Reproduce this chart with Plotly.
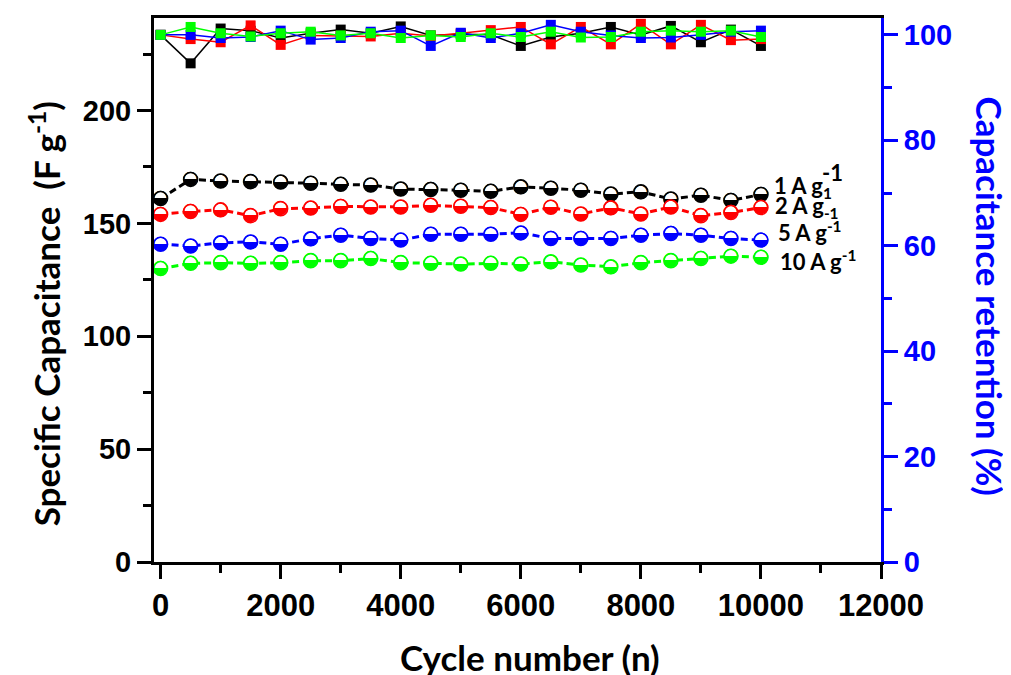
import plotly.graph_objects as go

# ---------------- data ----------------
cycles = [0, 500, 1000, 1500, 2000, 2500, 3000, 3500, 4000, 4500, 5000,
          5500, 6000, 6500, 7000, 7500, 8000, 8500, 9000, 9500, 10000]

cap_1 = [161.0, 169.5, 168.8, 168.5, 168.3, 167.8, 167.3, 167.0, 165.2, 165.0, 164.7,
         164.2, 166.2, 165.6, 164.7, 163.0, 164.0, 160.8, 162.5, 160.2, 162.8]
cap_2 = [154.0, 155.3, 156.0, 153.4, 156.5, 156.8, 157.5, 157.3, 157.3, 158.0, 157.6,
         157.0, 154.0, 157.2, 154.2, 156.9, 154.2, 157.3, 153.4, 154.8, 157.0]
cap_5 = [140.8, 140.0, 141.4, 141.8, 140.8, 143.2, 144.8, 143.3, 142.6, 145.2, 145.2,
         145.2, 145.8, 143.3, 143.3, 143.3, 144.8, 145.5, 144.8, 143.3, 142.6]
cap_10 = [130.0, 132.3, 132.6, 132.3, 132.6, 133.5, 133.5, 134.4, 132.6, 132.3, 132.0,
          132.3, 132.0, 133.0, 131.6, 130.8, 132.6, 133.5, 134.4, 135.5, 135.0]

ret_1 = [100.0, 94.6, 101.2, 100.8, 99.4, 100.3, 101.0, 100.3, 101.6, 99.9, 100.1,
         100.0, 97.9, 99.6, 100.3, 101.5, 100.0, 101.7, 98.6, 101.0, 97.9]
ret_2 = [100.0, 99.2, 98.6, 101.8, 98.1, 99.9, 99.8, 99.7, 100.3, 99.8, 100.3,
         100.9, 101.5, 98.2, 101.5, 98.2, 102.1, 98.2, 101.9, 99.0, 99.2]
ret_5 = [100.0, 100.0, 99.4, 99.6, 100.8, 99.1, 99.4, 100.6, 100.8, 97.9, 100.4,
         99.4, 100.3, 101.9, 100.6, 99.9, 99.4, 99.5, 100.0, 100.6, 100.8]
ret_10 = [100.0, 101.5, 100.3, 99.7, 100.3, 100.6, 99.9, 100.3, 99.4, 99.9, 99.6,
          100.3, 99.6, 100.6, 99.5, 99.6, 100.6, 100.8, 100.6, 100.8, 99.6]

series_names = ["1 A g-1", "2 A g-1", "5 A g-1", "10 A g-1"]
series_colors = ["#000000", "#FF0000", "#0000FF", "#00FF00"]
cap_series = [cap_1, cap_2, cap_5, cap_10]
ret_series = [ret_1, ret_2, ret_5, ret_10]

x_ticks = [0, 2000, 4000, 6000, 8000, 10000, 12000]
y_ticks = [0, 50, 100, 150, 200]
y2_ticks = [0, 20, 40, 60, 80, 100]

label_texts = ["1 A g<sub>1</sub>", "2 A g<sub>-1</sub>", "5 A g<sup>-1</sup>", "10 A g<sup>-1</sup>"]

# ---------------- figure ----------------
fig = go.Figure()

for name, col, cap in zip(series_names, series_colors, cap_series):
    fig.add_trace(go.Scatter(
        x=cycles, y=cap, name=name, yaxis="y",
        mode="lines+markers+text",
        line=dict(color=col, width=3, dash="7px,4px"),
        marker=dict(symbol="circle", size=14, color="white",
                    line=dict(color=col, width=1.5)),
        text=["\u25D2"] * len(cycles),
        textposition="middle center",
        textfont=dict(family="DejaVu Sans", size=19, color=col),
        showlegend=False, hoverinfo="x+y",
    ))

for name, col, ret in zip(series_names, series_colors, ret_series):
    fig.add_trace(go.Scatter(
        x=cycles, y=ret, name=name, yaxis="y2",
        mode="lines+markers",
        line=dict(color=col, width=1.5),
        marker=dict(symbol="square", size=10, color=col, line=dict(width=0)),
        showlegend=False, hoverinfo="x+y",
    ))

tickfont = dict(family="Liberation Sans, Arial, sans-serif", size=29, color="black", weight="bold")
titlefont = dict(family="Lato, sans-serif", size=35, color="black", weight="bold")
labelfont = dict(family="Lato, sans-serif", size=22, color="black", weight="bold")

# the page body has an 8px default margin; size the figure so the plot lands where the reference has it
fig.update_layout(
    width=1003, height=667,
    margin=dict(l=146, r=130, t=7, b=113),
    paper_bgcolor="white", plot_bgcolor="white",
    xaxis=dict(
        range=[-110, 12000], tickvals=x_ticks, tickformat="d", ticks="outside", ticklen=14, tickwidth=3,
        tickcolor="black", showline=True, linewidth=3, linecolor="black", mirror=True,
        showgrid=False, zeroline=False, tickfont=dict(tickfont, size=31),
        minor=dict(dtick=1000, tick0=0, ticks="outside", ticklen=8, tickwidth=3, tickcolor="black"),
    ),
    yaxis=dict(
        range=[0, 241], tickvals=y_ticks, ticks="outside", ticklen=14, tickwidth=3,
        tickcolor="black", showline=True, linewidth=3, linecolor="black",
        showgrid=False, zeroline=False, tickfont=tickfont,
        minor=dict(dtick=25, tick0=0, ticks="outside", ticklen=8, tickwidth=3, tickcolor="black"),
    ),
    yaxis2=dict(
        range=[0, 103.2], tickvals=y2_ticks, overlaying="y", side="right",
        ticks="outside", ticklen=14, tickwidth=3, tickcolor="#0000FF",
        showline=True, linewidth=3, linecolor="#0000FF",
        showgrid=False, zeroline=False, tickfont=dict(tickfont, color="#0000FF"),
        minor=dict(dtick=10, tick0=0, ticks="outside", ticklen=8, tickwidth=3, tickcolor="#0000FF"),
    ),
)

annotations = [
    dict(text="Cycle number (n)", xref="paper", yref="paper", x=0.517, y=-0.174,
         xanchor="center", yanchor="middle", showarrow=False, font=titlefont),
    dict(text="Specific Capacitance  (F g<sup>-1</sup>)", xref="paper", yref="paper",
         x=-0.150, y=0.457, textangle=-90, xanchor="center", yanchor="middle",
         showarrow=False, font=titlefont),
    dict(text="Capacitance retention (%)", xref="paper", yref="paper",
         x=1.15, y=0.488, textangle=90, xanchor="center", yanchor="middle",
         showarrow=False, font=dict(titlefont, color="#0000FF")),
]
label_x = [10190, 10200, 10257, 10290]
label_y = [166.2, 157.4, 146.4, 133.6]
for t, lx, ly in zip(label_texts, label_x, label_y):
    annotations.append(dict(text=t, x=lx, y=ly, xref="x", yref="y", xanchor="left",
                            yanchor="middle", showarrow=False, font=labelfont))
annotations.append(dict(text="-1", x=11190, y=172.4, xref="x", yref="y", xanchor="center",
                        yanchor="middle", showarrow=False, font=labelfont))
fig.update_layout(annotations=annotations)

fig.write_html("out.html")
